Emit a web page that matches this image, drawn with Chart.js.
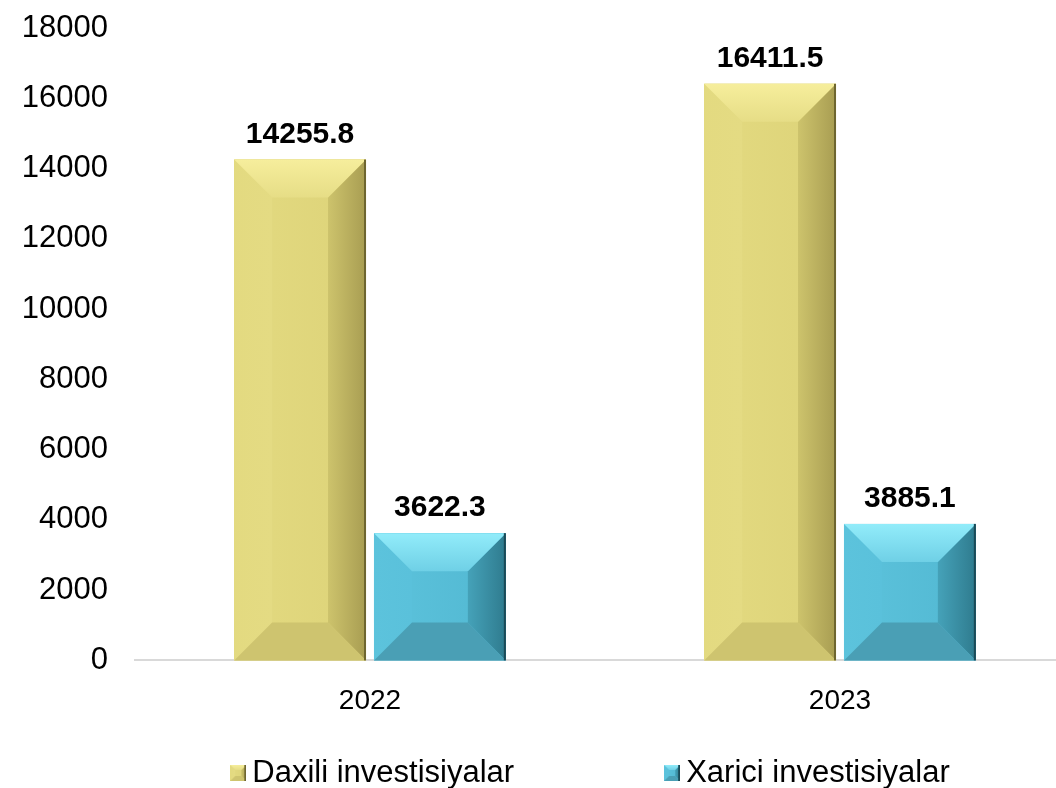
<!DOCTYPE html>
<html>
<head>
<meta charset="utf-8">
<script src="https://cdn.jsdelivr.net/npm/chart.js@4"></script>
<style>
  html, body { margin: 0; padding: 0; background: #fff; overflow: hidden; }
  #wrap { width: 1080px; height: 788px; }
</style>
</head>
<body>
<div id="wrap"><canvas id="investChart"></canvas></div>
<script>
// data
const years = ['2022', '2023'];
const domestic = [14255.8, 16411.5];
const foreign = [3622.3, 3885.1];
const seriesNames = ['Daxili investisiyalar', 'Xarici investisiyalar'];
const yMax = 18000;
const yStep = 2000;

const FONT = '"Liberation Sans", Arial, sans-serif';

// bevel colours per series
const palettes = [
    { face: '#ddd379', faceHi: '#e3da80', top: '#f6ee9c', topLo: '#e6dd86', left: '#e4db83',
      right: '#cdc36c', rightLo: '#a89d52', bottom: '#cec46f', edge: '#6e6630' },
    { face: '#52b8d2', faceHi: '#5cc3dc', top: '#92ecfa', topLo: '#6fd0e6', left: '#5ac1db',
      right: '#45a2b9', rightLo: '#2f7b8e', bottom: '#4a9fb5', edge: '#1b4a57' }
];

function poly(ctx, pts, fill) {
    ctx.beginPath();
    ctx.moveTo(pts[0][0], pts[0][1]);
    for (let k = 1; k < pts.length; k++) ctx.lineTo(pts[k][0], pts[k][1]);
    ctx.closePath();
    ctx.fillStyle = fill;
    ctx.fill();
}

function drawBevel(ctx, l, t, r, b, pal, depth) {
    const d = Math.min(depth, (r - l) / 2, (b - t) / 2);
    // face
    let g = ctx.createLinearGradient(l, 0, r, 0);
    g.addColorStop(0, pal.faceHi);
    g.addColorStop(1, pal.face);
    ctx.fillStyle = g;
    ctx.fillRect(l, t, r - l, b - t);
    // left
    g = ctx.createLinearGradient(l, 0, l + d, 0);
    g.addColorStop(0, pal.faceHi);
    g.addColorStop(1, pal.left);
    poly(ctx, [[l, t], [l + d, t + d], [l + d, b - d], [l, b]], g);
    // right
    g = ctx.createLinearGradient(r - d, 0, r, 0);
    g.addColorStop(0, pal.right);
    g.addColorStop(1, pal.rightLo);
    poly(ctx, [[r, t], [r - d, t + d], [r - d, b - d], [r, b]], g);
    // top
    g = ctx.createLinearGradient(0, t, 0, t + d);
    g.addColorStop(0, pal.top);
    g.addColorStop(1, pal.topLo);
    poly(ctx, [[l, t], [r, t], [r - d, t + d], [l + d, t + d]], g);
    // bottom
    poly(ctx, [[l, b], [r, b], [r - d, b - d], [l + d, b - d]], pal.bottom);
    // dark right edge
    ctx.fillStyle = pal.edge;
    ctx.fillRect(r - 2, t, 2, b - t);
}

// bevelled look on top of every bar, using the bar element geometry
const bevelPlugin = {
    id: 'bevel',
    afterDatasetsDraw(chart) {
        const ctx = chart.ctx;
        ctx.save();
        chart.data.datasets.forEach((ds, i) => {
            chart.getDatasetMeta(i).data.forEach(bar => {
                const p = bar.getProps(['x', 'y', 'base', 'width'], true);
                drawBevel(ctx, p.x - p.width / 2, p.y, p.x + p.width / 2, p.base, palettes[i], 38);
            });
        });
        ctx.restore();
    }
};

// value labels above the bars
const valueLabels = {
    id: 'valueLabels',
    afterDatasetsDraw(chart) {
        const ctx = chart.ctx;
        ctx.save();
        ctx.font = 'bold 30px ' + FONT;
        ctx.fillStyle = '#000';
        ctx.textAlign = 'center';
        ctx.textBaseline = 'alphabetic';
        chart.data.datasets.forEach((ds, i) => {
            chart.getDatasetMeta(i).data.forEach((bar, j) => {
                ctx.fillText(ds.data[j].toFixed(1), bar.x, bar.y - 17);
            });
        });
        ctx.restore();
    }
};

// small bevelled squares for the legend
function legendIcon(pal) {
    const c = document.createElement('canvas');
    c.width = 16; c.height = 16;
    drawBevel(c.getContext('2d'), 0, 0, 16, 16, pal, 5);
    return c;
}
const icons = palettes.map(legendIcon);

// legend row under the axis, centred on the plot area
const bottomLegend = {
    id: 'bottomLegend',
    afterDraw(chart) {
        const ctx = chart.ctx;
        const area = chart.chartArea;
        ctx.save();
        ctx.font = '31px ' + FONT;
        ctx.fillStyle = '#000';
        ctx.textAlign = 'left';
        ctx.textBaseline = 'middle';
        const box = 16, gap = 6, between = 150;
        const widths = seriesNames.map(n => ctx.measureText(n).width);
        const total = widths.reduce((s, w) => s + box + gap + w, 0) + between * (seriesNames.length - 1);
        let x = (area.left + area.right) / 2 - 15 - total / 2;
        const y = chart.height - 15;
        seriesNames.forEach((name, i) => {
            ctx.drawImage(icons[i], x, y - 8);
            x += box + gap;
            ctx.fillText(name, x, y);
            x += widths[i] + between;
        });
        ctx.restore();
    }
};

const ctx = document.getElementById('investChart').getContext('2d');
const investChart = new Chart(ctx, {
    type: 'bar',
    data: {
        labels: years,
        datasets: [
            { label: seriesNames[0], data: domestic, backgroundColor: palettes[0].face },
            { label: seriesNames[1], data: foreign, backgroundColor: palettes[1].face }
        ]
    },
    options: {
        responsive: true,
        maintainAspectRatio: false,
        animation: false,
        categoryPercentage: 0.595,
        barPercentage: 0.943,
        layout: { padding: { top: 0, right: 5, bottom: 54, left: 0 } },
        plugins: {
            tooltip: { enabled: false },
            legend: { display: false }
        },
        scales: {
            x: {
                grid: { display: false },
                border: { display: true, color: '#d9d9d9', width: 2 },
                ticks: { color: '#000', padding: 16, font: { family: FONT, size: 28 } }
            },
            y: {
                min: 0,
                max: yMax,
                grid: { display: false, drawTicks: false },
                border: { display: false },
                afterFit(scale) {
                    scale.width = 135;
                    scale.paddingTop = 28;
                    scale.paddingBottom = 18;
                },
                ticks: {
                    stepSize: yStep,
                    autoSkip: false,
                    color: '#000',
                    padding: 27,
                    font: { family: FONT, size: 31 },
                    callback: v => String(v)
                }
            }
        }
    },
    plugins: [bevelPlugin, valueLabels, bottomLegend]
});
</script>
</body>
</html>
